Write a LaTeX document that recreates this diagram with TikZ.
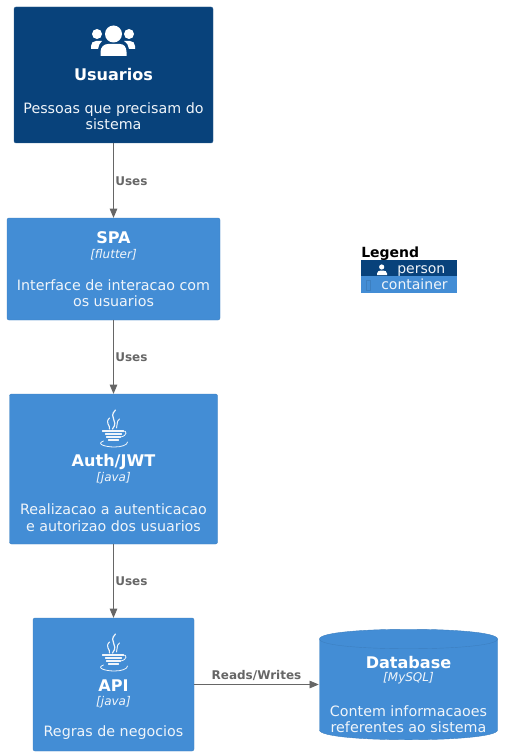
\documentclass[tikz,border=0pt]{standalone}
\usepackage{fontspec}
\setmainfont{DejaVu Sans}
\usepackage{xcolor}
\usetikzlibrary{arrows}
\definecolor{persondark}{HTML}{08427B}
\definecolor{personedge}{HTML}{2A5C8E}
\definecolor{containerblue}{HTML}{438DD5}
\definecolor{containeredge}{HTML}{3C7FC0}
\definecolor{linkgray}{HTML}{666666}
\definecolor{softwhite}{HTML}{F0F5FA}
\tikzset{
  boxnode/.style={draw=containeredge,fill=containerblue,rounded corners=1.5pt,line width=0.3pt,inner sep=0pt},
  titletext/.style={text=white,font=\bfseries\fontsize{12.05}{14}\selectfont,inner sep=0pt},
  techtext/.style={text=softwhite,font=\itshape\fontsize{9}{11}\selectfont,inner sep=0pt},
  bodytext/.style={text=softwhite,align=center,font=\fontsize{10.7}{12.3}\selectfont,inner sep=0pt},
  linktext/.style={text=linkgray,font=\bfseries\fontsize{9}{11}\selectfont,inner sep=0pt,anchor=base west},
  link/.style={draw=linkgray,line width=0.55pt,->},
  javaicon/.pic={
    \draw[softwhite,line width=0.9pt] (2,-18) .. controls (-6,-10) and (6,-8) .. (-1,1);
    \draw[softwhite,line width=0.8pt] (-4,-10) .. controls (-9,-5) and (-3,-3) .. (-4,1);
    \draw[softwhite,line width=0.7pt] (6,-9) .. controls (2,-6) and (5,-3) .. (3,0);
    \draw[softwhite,line width=0.8pt] (-11,3) -- (10,3);
    \draw[softwhite,line width=0.8pt] (-8,6) -- (8,6);
    \draw[softwhite,line width=0.8pt] (-7,9) -- (7,9);
    \draw[softwhite,line width=0.8pt] (-5,12) -- (5,12);
    \draw[softwhite,line width=0.6pt] (9,3) .. controls (14,2) and (14,8) .. (7,9);
    \draw[softwhite,line width=0.6pt] (-10,13) .. controls (-18,16) and (-8,19) .. (1,19) .. controls (8,19) and (14,17) .. (14,14);
  },
}
\begin{document}
\begin{tikzpicture}[line cap=round,line join=round,>=triangle 45,x=0.75pt,y=-0.75pt]
\useasboundingbox (0,0) rectangle (513,756);
\node[boxnode,draw=personedge,fill=persondark,minimum width=149.25pt,minimum height=102pt] (usuarios) at (113.5,75) {};
\node[boxnode,minimum width=159.75pt,minimum height=76.5pt] (spa) at (113.5,269) {};
\node[boxnode,minimum width=156pt,minimum height=112.5pt] (auth) at (113.5,469) {};
\node[boxnode,minimum width=120.75pt,minimum height=99.75pt] (api) at (113.5,684.5) {};
\node[inner sep=0pt,minimum width=134.25pt,minimum height=83.25pt] (database) at (408.5,684.5) {};
% database cylinder
\draw[draw=containeredge,fill=containerblue,line width=0.3pt] (319.5,639) .. controls (319.5,626) and (497.5,626) .. (497.5,639) -- (497.5,730) .. controls (497.5,743) and (319.5,743) .. (319.5,730) -- cycle;
\draw[draw=containeredge,line width=0.3pt] (319.5,639) .. controls (319.5,652) and (497.5,652) .. (497.5,639);
% users icon
\fill[white] (113.5,34) circle (8.5);
\fill[white] (97,34) circle (5);
\fill[white] (129,34) circle (5);
\fill[white] (100.5,56) -- (100.5,52) .. controls (100.5,47) and (104,44) .. (108,44) -- (120,44) .. controls (124,44) and (126.5,47) .. (126.5,52) -- (126.5,56) -- cycle;
\fill[white] (91,49) -- (91,46) .. controls (91,43) and (93,41) .. (96,41) -- (102,41) .. controls (100,43) and (98,46) .. (98,49) -- cycle;
\fill[white] (135,49) -- (135,46) .. controls (135,43) and (133,41) .. (130,41) -- (124,41) .. controls (127,43) and (129,46) .. (129,49) -- cycle;
% texts
\node[titletext] (usuariosname) at (113.5,74.5) {Usuarios};
\node[bodytext] (usuariosdesc) at (113.5,116) {Pessoas que precisam do\\sistema};
\node[titletext] (spaname) at (113.5,238) {SPA};
\node[techtext] (spatech) at (113.5,254.5) {[flutter]};
\node[bodytext] (spadesc) at (113.5,293) {Interface de interacao com\\os usuarios};
\pic at (113.5,428) {javaicon};
\node[titletext] (authname) at (113.5,462.5) {Auth/JWT};
\node[techtext] (authtech) at (113.5,478.5) {[java]};
\node[bodytext] (authdesc) at (113.5,517.5) {Realizacao a autenticacao\\e autorizao dos usuarios};
\pic at (113.5,652) {javaicon};
\node[titletext] (apiname) at (113.5,686) {API};
\node[techtext] (apitech) at (113.5,702.5) {[java]};
\node[bodytext] (apidesc) at (113.5,733) {Regras de negocios};
\node[titletext] (databasename) at (408.5,663) {Database};
\node[techtext] (databasetech) at (408.5,678.5) {[MySQL]};
\node[bodytext] (databasedesc) at (408.5,719) {Contem informacaoes\\referentes ao sistema};
% connectors
\draw[link] (usuarios) -- (spa);
\draw[link] (spa) -- (auth);
\draw[link] (auth) -- (api);
\draw[link] (api) -- (database);
\node[linktext] (usesa) at (115,185.5) {Uses};
\node[linktext] (usesb) at (115,361) {Uses};
\node[linktext] (usesc) at (115,585) {Uses};
\node[linktext,anchor=base] (readswrites) at (256.5,679) {Reads/Writes};
% legend
\node[anchor=base west,inner sep=0pt,font=\bfseries\fontsize{10.5}{12}\selectfont] (legendtitle) at (361,257) {Legend};
\node[fill=persondark,inner sep=0pt,minimum width=72pt,minimum height=12.4pt] (legendperson) at (409,268.25) {};
\node[fill=containerblue,inner sep=0pt,minimum width=72pt,minimum height=12.4pt] (legendcontainer) at (409,284.75) {};
\draw[containeredge,line width=0.3pt] (366,280) rectangle (370.5,290);
\fill[white] (381.7,267) circle (2.6);
\fill[white] (377,275) -- (377,273.5) .. controls (377,271.5) and (379,270.5) .. (381,270.5) -- (383,270.5) .. controls (385,270.5) and (387,271.5) .. (387,273.5) -- (387,275) -- cycle;
\node[anchor=base west,inner sep=0pt,text=softwhite,font=\fontsize{10.5}{12}\selectfont] (legendpersontext) at (397,273) {person};
\node[anchor=base west,inner sep=0pt,text=softwhite,font=\fontsize{10.5}{12}\selectfont] (legendcontainertext) at (381,289.5) {container};
\end{tikzpicture}
\end{document}
